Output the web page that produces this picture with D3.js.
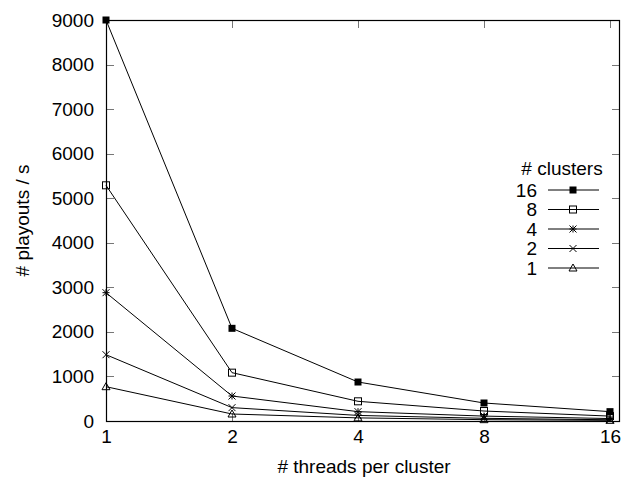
<!DOCTYPE html>
<html><head><meta charset="utf-8">
<script src="https://cdn.jsdelivr.net/npm/d3@7"></script>
<style>body{margin:0;background:#fff}svg{display:block}text{font-family:"Liberation Sans",Arial,Helvetica,sans-serif;fill:#000}</style>
</head><body><svg id="c" width="623" height="478"></svg>
<script>
const threads = [1, 2, 4, 8, 16];
const xTicks = [1, 2, 4, 8, 16];
const yTicks = [0,1000,2000,3000,4000,5000,6000,7000,8000,9000];
const seriesNames = ["16", "8", "4", "2", "1"];
const markers = ["fsquare", "osquare", "star", "cross", "triangle"];
const c16 = [9000, 2080, 875, 404, 210];
const c8  = [5290, 1085, 442, 224, 110];
const c4  = [2880, 561, 210, 110, 55];
const c2  = [1488, 300, 125, 60, 28];
const c1  = [770, 157, 70, 30, 15];
const seriesValues = [c16, c8, c4, c2, c1];

const svg = d3.select("#c");
const L = 106, R = 620, T = 20, B = 421;
const x = d3.scaleLog().base(2).domain([1, 16]).range([L, 610]);
const y = d3.scaleLinear().domain([0, 9000]).range([B, T]);
const FS = 19;

// ticks (inward, gray)
const tk = svg.append("g").attr("stroke", "#777").attr("stroke-width", 1);
yTicks.forEach(v => {
  const yy = Math.round(y(v)) + 0.5;
  tk.append("line").attr("x1", L).attr("x2", L + 8).attr("y1", yy).attr("y2", yy);
  tk.append("line").attr("x1", R - 8).attr("x2", R).attr("y1", yy).attr("y2", yy);
});
xTicks.forEach(v => {
  const xx = Math.round(x(v)) + 0.5;
  tk.append("line").attr("x1", xx).attr("x2", xx).attr("y1", B).attr("y2", B - 8);
  tk.append("line").attr("x1", xx).attr("x2", xx).attr("y1", T).attr("y2", T + 8);
});

// frame
svg.append("rect").attr("x", L + 0.5).attr("y", T + 0.5).attr("width", R - L - 1).attr("height", B - T)
  .attr("fill", "none").attr("stroke", "#000").attr("stroke-width", 1.2);

// tick labels
const yAxis = d3.axisLeft(y).tickValues(yTicks).tickSize(0).tickPadding(12).tickFormat(d3.format("d"));
const ga = svg.append("g").attr("transform", `translate(${L},0)`).call(yAxis);
ga.select(".domain").remove();
ga.selectAll("text").attr("font-size", FS).attr("font-family", null);
const xAxis = d3.axisBottom(x).tickValues(xTicks).tickSize(0).tickPadding(8.5).tickFormat(d3.format("d"));
const gx = svg.append("g").attr("transform", `translate(0,${B})`).call(xAxis);
gx.select(".domain").remove();
gx.selectAll("text").attr("font-size", FS).attr("font-family", null);

// axis titles
svg.append("text").attr("x", 364).attr("y", 473).attr("text-anchor", "middle")
  .attr("font-size", FS).text("# threads per cluster");
svg.append("text").attr("transform", `translate(29,${(T + B) / 2}) rotate(-90)`).attr("text-anchor", "middle")
  .attr("font-size", FS).text("# playouts / s");

function marker(g, type, cx, cy) {
  const s = 3.5;
  if (type === "fsquare") g.append("rect").attr("x", cx - s).attr("y", cy - s).attr("width", 2 * s).attr("height", 2 * s).attr("fill", "#000");
  else if (type === "osquare") g.append("rect").attr("x", cx - s).attr("y", cy - s).attr("width", 2 * s).attr("height", 2 * s).attr("fill", "none").attr("stroke", "#000").attr("stroke-width", 1);
  else if (type === "star") {
    g.append("path").attr("d", `M${cx - s},${cy - s}L${cx + s},${cy + s}M${cx - s},${cy + s}L${cx + s},${cy - s}M${cx},${cy - s}L${cx},${cy + s}M${cx - s},${cy}L${cx + s},${cy}`).attr("stroke", "#000").attr("fill", "none");
  } else if (type === "cross") {
    g.append("path").attr("d", `M${cx - s},${cy - s}L${cx + s},${cy + s}M${cx - s},${cy + s}L${cx + s},${cy - s}`).attr("stroke", "#000").attr("fill", "none");
  } else if (type === "triangle") {
    g.append("path").attr("d", `M${cx},${cy - s - 0.5}L${cx + s + 0.5},${cy + s - 0.5}L${cx - s - 0.5},${cy + s - 0.5}Z`).attr("stroke", "#000").attr("fill", "none");
  }
}

const line = d3.line().x((d, i) => x(threads[i])).y(d => y(d));
seriesValues.forEach((vals, si) => {
  const g = svg.append("g");
  g.append("path").attr("d", line(vals)).attr("fill", "none").attr("stroke", "#000").attr("stroke-width", 1);
  vals.forEach((v, i) => marker(g, markers[si], x(threads[i]), y(v)));
});

// legend
const lg = svg.append("g");
lg.append("text").attr("x", 562).attr("y", 175).attr("text-anchor", "middle").attr("font-size", FS).text("# clusters");
seriesNames.forEach((n, i) => {
  const yy = 190 + i * 19.5;
  lg.append("text").attr("x", 537).attr("y", yy).attr("dy", "0.35em").attr("text-anchor", "end").attr("font-size", FS).text(n);
  lg.append("line").attr("x1", 548).attr("x2", 599).attr("y1", yy).attr("y2", yy).attr("stroke", "#000");
  marker(lg, markers[i], 573, yy);
});
</script></body></html>
